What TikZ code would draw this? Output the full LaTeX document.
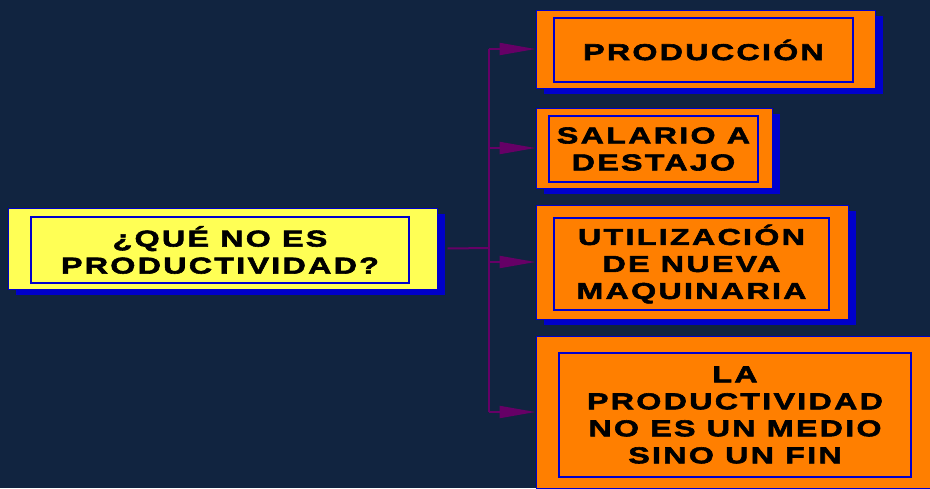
\documentclass[tikz,border=0pt]{standalone}
\usepackage{fontspec}
\setmainfont{Liberation Sans}[FakeStretch=1.4,LetterSpace=10,FakeBold=2.5,BoldFont={Liberation Sans Bold}]
\usetikzlibrary{arrows.meta,shadows,backgrounds}
\definecolor{bg}{RGB}{17,36,64}
\definecolor{org}{RGB}{255,127,0}
\definecolor{ylw}{RGB}{255,255,85}
\definecolor{bbl}{RGB}{0,0,204}
\definecolor{prp}{RGB}{102,0,102}
\begin{document}
\begin{tikzpicture}[x=1pt,y=-1pt,
  outerbox/.style={draw=bbl,line width=1pt,inner sep=0pt,
    drop shadow={shadow xshift=8pt,shadow yshift=-6pt,opacity=1,fill=bbl,draw=none}},
  innerbox/.style={draw=bbl,line width=1.5pt,inner sep=0pt,align=center,
    font=\fontsize{23}{27}\selectfont\bfseries},
  conn/.style={prp,line width=2pt},
  arr/.style={prp,line width=2pt,-{Triangle[length=36pt,width=12pt]}}]
\fill[bg] (0,0) rectangle (930,488);
\useasboundingbox (0,0) rectangle (930,488);
% left box
\node[outerbox,fill=ylw,minimum width=429pt,minimum height=81pt] (L) at (222.5,248.5) {};
\node[innerbox,minimum width=378pt,minimum height=66pt] (Li) at (220,250) {¿QUÉ NO ES\\PRODUCTIVIDAD?};
% right boxes
\node[outerbox,fill=org,minimum width=339pt,minimum height=78pt] (B1) at (705.5,49) {};
\node[innerbox,minimum width=299pt,minimum height=64pt] (B1i) at (703.5,50) {PRODUCCIÓN};
\node[outerbox,fill=org,minimum width=236pt,minimum height=80pt] (B2) at (654,148) {};
\node[innerbox,minimum width=209pt,minimum height=66pt] (B2i) at (653.5,149) {SALARIO A\\DESTAJO};
\node[outerbox,fill=org,minimum width=312pt,minimum height=114pt] (B3) at (692,262) {};
\node[innerbox,minimum width=275pt,minimum height=92pt] (B3i) at (691.5,264) {UTILIZACIÓN\\DE NUEVA\\MAQUINARIA};
\node[draw=bbl,line width=1pt,fill=org,inner sep=0pt,minimum width=410pt,minimum height=152pt] (B4) at (741,412) {};
\node[innerbox,minimum width=352pt,minimum height=124pt] (B4i) at (735,415) {LA\\PRODUCTIVIDAD\\NO ES UN MEDIO\\SINO UN FIN};
% connectors
\coordinate (J) at (489,248);
\coordinate (T1) at (489,49);
\coordinate (T4) at (489,412);
\draw[conn] ([xshift=10pt]L.east) -- (J);
\draw[conn] (T1) -- (T4);
\draw[arr] (T1) -- (B1.west);
\draw[arr] (T1 |- B2.west) -- (B2.west);
\draw[arr] (T1 |- B3.west) -- (B3.west);
\draw[arr] (T4) -- (B4.west);
\end{tikzpicture}
\end{document}
